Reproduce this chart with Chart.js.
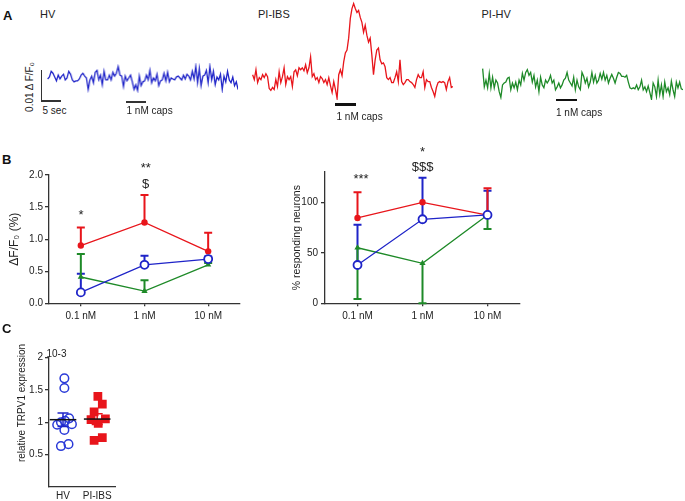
<!DOCTYPE html>
<html>
<head>
<meta charset="utf-8">
<script src="https://cdn.jsdelivr.net/npm/chart.js@4.4.1/dist/chart.umd.min.js"></script>
<style>
  html, body { margin: 0; padding: 0; background: #fff; }
  body { width: 685px; height: 501px; position: relative; overflow: hidden;
         font-family: 'Liberation Sans', Arial, Helvetica, sans-serif; color: #222; }
  .box { position: absolute; }
  .txt { position: absolute; white-space: nowrap; line-height: 1; font-size: 10px; }
  .lbl { position: absolute; white-space: nowrap; line-height: 1; font-size: 11px; }
  .panel { position: absolute; line-height: 1; font-size: 13px; font-weight: bold; color: #111; }
  .sig { position: absolute; white-space: nowrap; line-height: 1; font-size: 13px; transform: translateX(-50%); }
  .rot { position: absolute; white-space: nowrap; line-height: 1; transform: translate(-50%, -50%) rotate(-90deg); }
  .bar { position: absolute; background: #333; }
</style>
</head>
<body>

<!-- panel A -->
<div class="panel" style="left:3px; top:9px;">A</div>
<div class="lbl" style="left:40px; top:8.5px;">HV</div>
<div class="lbl" style="left:258px; top:8.5px;">PI-IBS</div>
<div class="lbl" style="left:481.5px; top:8.5px;">PI-HV</div>

<div class="box" style="left:47px; top:63.3px; width:190.7px; height:30px;"><canvas id="traceHv"></canvas></div>
<div class="box" style="left:251.7px; top:0px; width:201.6px; height:100px;"><canvas id="traceIbs"></canvas></div>
<div class="box" style="left:481.7px; top:67px; width:201.6px; height:33px;"><canvas id="tracePiHv"></canvas></div>

<div class="bar" style="left:40.7px; top:70px; width:1.6px; height:32px;"></div>
<div class="bar" style="left:40.7px; top:100.4px; width:20.5px; height:1.6px;"></div>
<div class="rot" style="left:30px; top:87px; font-size:10px;">0.01 Δ F/F₀</div>
<div class="txt" style="left:42.5px; top:105.7px;">5 sec</div>

<div class="bar" style="left:126px; top:100.5px; width:20px; height:2px;"></div>
<div class="txt" style="left:126.5px; top:105.7px;">1 nM caps</div>
<div class="bar" style="left:335px; top:103px; width:21px; height:2.5px; background:#111;"></div>
<div class="txt" style="left:336.5px; top:111.7px;">1 nM caps</div>
<div class="bar" style="left:556px; top:98.5px; width:21px; height:2.5px; background:#111;"></div>
<div class="txt" style="left:556px; top:107.7px;">1 nM caps</div>

<!-- panel B -->
<div class="panel" style="left:2px; top:153.3px;">B</div>
<div class="box" style="left:0px; top:160px; width:250px; height:170px;"><canvas id="dfChart"></canvas></div>
<div class="box" style="left:255px; top:140px; width:275px; height:190px;"><canvas id="respChart"></canvas></div>
<div class="sig" style="left:81px; top:208px;">*</div>
<div class="sig" style="left:145.7px; top:161px;">**</div>
<div class="sig" style="left:145.7px; top:177px;">$</div>
<div class="sig" style="left:361px; top:172px;">***</div>
<div class="sig" style="left:422.5px; top:144.5px;">*</div>
<div class="sig" style="left:422.7px; top:160px;">$$$</div>

<!-- panel C -->
<div class="panel" style="left:2px; top:322px;">C</div>
<div class="box" style="left:0px; top:340px; width:130px; height:161px;"><canvas id="exprChart"></canvas></div>
<div class="txt" style="left:46.5px; top:348.7px;">10-3</div>
<div class="rot" style="left:21.7px; top:402.5px; font-size:10px;">relative TRPV1 expression</div>

<script>
// ---- data ----
// panel A: calcium traces read off the picture (arbitrary units, evenly sampled)
const traceHv = [14,16,22,20,16,12,18,14,17,19,13,15,22,19,13,11,12,12,14,18,
  20,17,15,3,13,17,10,21,23,13,18,8,22,13,13,18,13,21,17,20,
  27,18,17,6,17,12,15,18,11,3,8,2,17,7,11,12,18,13,23,10,
  15,12,19,7,12,13,20,12,21,11,15,14,13,16,17,15,13,18,14,19,
  17,13,22,14,27,10,25,7,17,18,23,10,27,13,22,8,16,13,19,3,
  17,11,22,13,10,16,7,11,3];
const traceIbs = [25,20,30,17,22,20,25,22,26,23,11,9,12,10,20,13,28,17,23,32,
  15,23,20,23,13,28,30,24,32,30,32,29,35,27,32,43,23,26,20,22,
  17,23,21,17,20,15,22,14,7,18,10,1,25,30,24,38,47,50,62,82,
  92,97,92,88,90,83,78,68,75,65,58,62,45,25,40,50,52,40,36,37,
  33,22,20,22,17,17,22,28,18,40,18,15,17,20,20,18,17,15,12,20,
  25,22,22,28,12,20,18,18,12,8,3,12,17,18,17,18,17,10,18,22,
  12,13];
const tracePiHv = [32,13,20,12,27,12,23,12,20,17,8,2,15,17,18,22,23,10,17,12,
  18,10,20,15,27,20,28,31,25,28,18,25,13,20,8,23,15,12,20,17,
  20,25,17,20,10,13,17,12,15,20,22,28,20,17,14,23,10,20,13,10,
  28,24,17,22,13,18,28,18,25,17,20,27,21,28,20,25,17,22,26,22,
  17,23,28,27,24,24,23,25,18,12,11,12,11,15,10,13,20,10,13,8,
  14,7,0,17,13,3,20,5,15,3,18,8,12,5,19,10,3,18,12,18,
  11,10];

// panel B
const doses = ['0.1 nM', '1 nM', '10 nM'];
const dfHv      = [0.17, 0.60, 0.69];
const dfHvErr   = [0.29, 0.14, 0.04];
const dfIbs     = [0.90, 1.26, 0.81];
const dfIbsErr  = [0.28, 0.43, 0.29];
const dfPiHv    = [0.41, 0.19, 0.60];
const dfPiHvErr = [0.36, 0.17, 0.03];

const respHv      = [37.9, 83.2, 87.5];
const respHvErr   = [39.9, 41.2, 24.0];
const respIbs     = [84.5, 100, 87.4];
const respIbsErr  = [25.5, 0, 26.5];
const respPiHv    = [55.0, 39.6, 87.5];
const respPiHvErr = [-50.7, -39.6, -13.9];   // drawn downwards

// panel C
const groups = ['HV', 'PI-IBS'];
const exprHv       = [1.68, 1.53, 1.06, 1.00, 1.02, 0.96, 0.97, 0.88, 0.63, 0.66];
const exprHvJitter = [0.04, 0.04, 0.18, -0.06, 0.06, -0.17, 0.26, 0.04, -0.06, 0.16];
const exprIbs       = [1.40, 1.28, 1.16, 1.04, 1.05, 0.98, 0.76, 0.72];
const exprIbsJitter = [0.02, 0.15, -0.09, -0.18, 0.24, 0.03, 0.15, -0.09];

// ---- styles ----
const colorBlue  = '#1f24c8';
const colorRed   = '#e8151b';
const colorGreen = '#1e8a28';
const colorAxis  = '#333';

Chart.defaults.font.family = "'Liberation Sans', Arial, Helvetica, sans-serif";
Chart.defaults.color = '#222';
Chart.defaults.animation = false;
Chart.defaults.plugins.legend.display = false;
Chart.defaults.plugins.tooltip.enabled = false;

function traceChart(id, values, color, yMax) {
  new Chart(document.getElementById(id), {
    type: 'line',
    data: {
      labels: values.map((v, i) => i),
      datasets: [{ data: values, borderColor: color, borderWidth: 1.3, pointRadius: 0, tension: 0, clip: false }]
    },
    options: {
      responsive: true,
      maintainAspectRatio: false,
      layout: { padding: 0 },
      scales: {
        x: { display: false },
        y: { display: false, min: 0, max: yMax }
      }
    }
  });
}

traceChart('traceHv', traceHv, colorBlue, 30);
traceChart('traceIbs', traceIbs, colorRed, 100);
traceChart('tracePiHv', tracePiHv, colorGreen, 33);

// one sided error bars, sign of the error gives direction
const errorBars = {
  id: 'errorBars',
  beforeDatasetsDraw(chart) {
    const ctx = chart.ctx;
    const yScale = chart.scales.y;
    chart.data.datasets.forEach((ds, i) => {
      const meta = chart.getDatasetMeta(i);
      meta.data.forEach((pt, j) => {
        const err = ds.errors[j];
        if (!err) return;
        const y0 = yScale.getPixelForValue(ds.data[j]);
        const y1 = yScale.getPixelForValue(ds.data[j] + err);
        ctx.save();
        ctx.strokeStyle = ds.borderColor;
        ctx.lineWidth = 2;
        ctx.beginPath();
        ctx.moveTo(pt.x, y0);
        ctx.lineTo(pt.x, y1);
        ctx.moveTo(pt.x - 4, y1);
        ctx.lineTo(pt.x + 4, y1);
        ctx.stroke();
        ctx.restore();
      });
    });
  }
};

function lineSets(hv, hvErr, ibs, ibsErr, piHv, piHvErr) {
  return [
    { data: hv, errors: hvErr, borderColor: colorBlue, borderWidth: 1.3,
      pointStyle: 'circle', pointRadius: 4, pointBorderWidth: 1.8,
      pointBackgroundColor: '#fff', pointBorderColor: colorBlue },
    { data: ibs, errors: ibsErr, borderColor: colorRed, borderWidth: 1.3,
      pointStyle: 'circle', pointRadius: 3.2, pointBorderWidth: 0,
      pointBackgroundColor: colorRed },
    { data: piHv, errors: piHvErr, borderColor: colorGreen, borderWidth: 1.3,
      pointStyle: 'triangle', pointRadius: 3.6, pointBorderWidth: 0,
      pointBackgroundColor: colorGreen }
  ];
}

new Chart(document.getElementById('dfChart'), {
  type: 'line',
  data: { labels: doses, datasets: lineSets(dfHv, dfHvErr, dfIbs, dfIbsErr, dfPiHv, dfPiHvErr) },
  options: {
    responsive: true,
    maintainAspectRatio: false,
    layout: { padding: { top: 15, right: 10, left: 0, bottom: 0 } },
    scales: {
      x: {
        offset: true,
        border: { color: colorAxis, width: 1.3 },
        grid: { drawOnChartArea: false, color: colorAxis, lineWidth: 1.3, tickLength: 3 },
        ticks: { padding: 4, maxRotation: 0, font: { size: 10 } },
        afterFit: s => { s.height = 26.7; }
      },
      y: {
        min: 0, max: 2,
        border: { color: colorAxis, width: 1.3 },
        grid: { drawOnChartArea: false, color: colorAxis, lineWidth: 1.3, tickLength: 4 },
        ticks: { stepSize: 0.5, padding: 2, font: { size: 10 }, callback: v => v.toFixed(1) },
        title: { display: true, text: 'ΔF/F₀ (%)', font: { size: 12 }, padding: { top: 7.8, bottom: 0 } },
        afterFit: s => { s.width = 49; }
      }
    }
  },
  plugins: [errorBars]
});

new Chart(document.getElementById('respChart'), {
  type: 'line',
  data: { labels: doses, datasets: lineSets(respHv, respHvErr, respIbs, respIbsErr, respPiHv, respPiHvErr) },
  options: {
    responsive: true,
    maintainAspectRatio: false,
    layout: { padding: { top: 32, right: 10, left: 0, bottom: 0 } },
    scales: {
      x: {
        offset: true,
        border: { color: colorAxis, width: 1.3 },
        grid: { drawOnChartArea: false, color: colorAxis, lineWidth: 1.3, tickLength: 3 },
        ticks: { padding: 4, maxRotation: 0, font: { size: 10 } },
        afterFit: s => { s.height = 26.7; }
      },
      y: {
        min: 0, max: 130,
        border: { color: colorAxis, width: 1.3 },
        grid: { drawOnChartArea: false, color: colorAxis, lineWidth: 1.3, tickLength: 4 },
        ticks: { stepSize: 50, padding: 3, font: { size: 10 } },
        afterBuildTicks: s => { s.ticks = s.ticks.filter(t => t.value % 50 === 0); },
        title: { display: true, text: '% responding neurons', font: { size: 10.5 }, padding: { top: 35.4, bottom: 0 } },
        afterFit: s => { s.width = 70; }
      }
    }
  },
  plugins: [errorBars]
});

// mean line and SEM for the scatter groups
const meanSem = {
  id: 'meanSem',
  afterDatasetsDraw(chart) {
    const ctx = chart.ctx;
    const xs = chart.scales.x, ys = chart.scales.y;
    chart.data.datasets.forEach(ds => {
      const vals = ds.data.map(p => p.y);
      const n = vals.length;
      const mean = vals.reduce((a, b) => a + b, 0) / n;
      const sd = Math.sqrt(vals.reduce((a, b) => a + (b - mean) ** 2, 0) / (n - 1));
      const sem = sd / Math.sqrt(n);
      const cx = xs.getPixelForValue(ds.group);
      const yM = ys.getPixelForValue(mean);
      const yT = ys.getPixelForValue(mean + sem);
      const yB = ys.getPixelForValue(mean - sem);
      ctx.save();
      ctx.lineWidth = 1.5;
      ctx.strokeStyle = ds.semColor;
      ctx.beginPath();
      ctx.moveTo(cx, yT); ctx.lineTo(cx, yB);
      ctx.moveTo(cx - 5.5, yT); ctx.lineTo(cx + 5.5, yT);
      ctx.moveTo(cx - 5.5, yB); ctx.lineTo(cx + 5.5, yB);
      ctx.stroke();
      ctx.strokeStyle = '#111';
      ctx.beginPath();
      ctx.moveTo(cx - 13.3, yM); ctx.lineTo(cx + 13.3, yM);
      ctx.stroke();
      ctx.restore();
    });
  }
};

new Chart(document.getElementById('exprChart'), {
  type: 'scatter',
  data: {
    datasets: [
      { group: 0, semColor: colorBlue,
        data: exprHv.map((v, i) => ({ x: 0 + exprHvJitter[i], y: v })),
        pointStyle: 'circle', pointRadius: 4.3, pointBorderWidth: 1.5,
        pointBorderColor: '#2a3ad8', pointBackgroundColor: 'rgba(0,0,0,0)' },
      { group: 1, semColor: colorRed,
        data: exprIbs.map((v, i) => ({ x: 1 + exprIbsJitter[i], y: v })),
        pointStyle: 'rect', pointRadius: 6.2, pointBorderWidth: 0,
        pointBackgroundColor: colorRed }
    ]
  },
  options: {
    responsive: true,
    maintainAspectRatio: false,
    layout: { padding: { top: 17.7, right: 14.7, left: 0, bottom: 0 } },
    scales: {
      x: {
        type: 'linear', min: -0.41, max: 1.53,
        border: { color: colorAxis, width: 1.3 },
        grid: { display: true, drawOnChartArea: false, drawTicks: false },
        afterBuildTicks: s => { s.ticks = [{ value: 0 }, { value: 1 }]; },
        ticks: { padding: 4, font: { size: 10 }, callback: v => groups[v] },
        afterFit: s => { s.height = 14.3; }
      },
      y: {
        min: 0, max: 2,
        border: { color: colorAxis, width: 1.3 },
        grid: { drawOnChartArea: false, color: colorAxis, lineWidth: 1.3, tickLength: 4 },
        ticks: { stepSize: 0.5, padding: 2, font: { size: 10 }, callback: v => String(v) },
        afterBuildTicks: s => { s.ticks = s.ticks.filter(t => t.value > 0); },
        afterFit: s => { s.width = 49; }
      }
    }
  },
  plugins: [meanSem]
});
</script>
</body>
</html>
